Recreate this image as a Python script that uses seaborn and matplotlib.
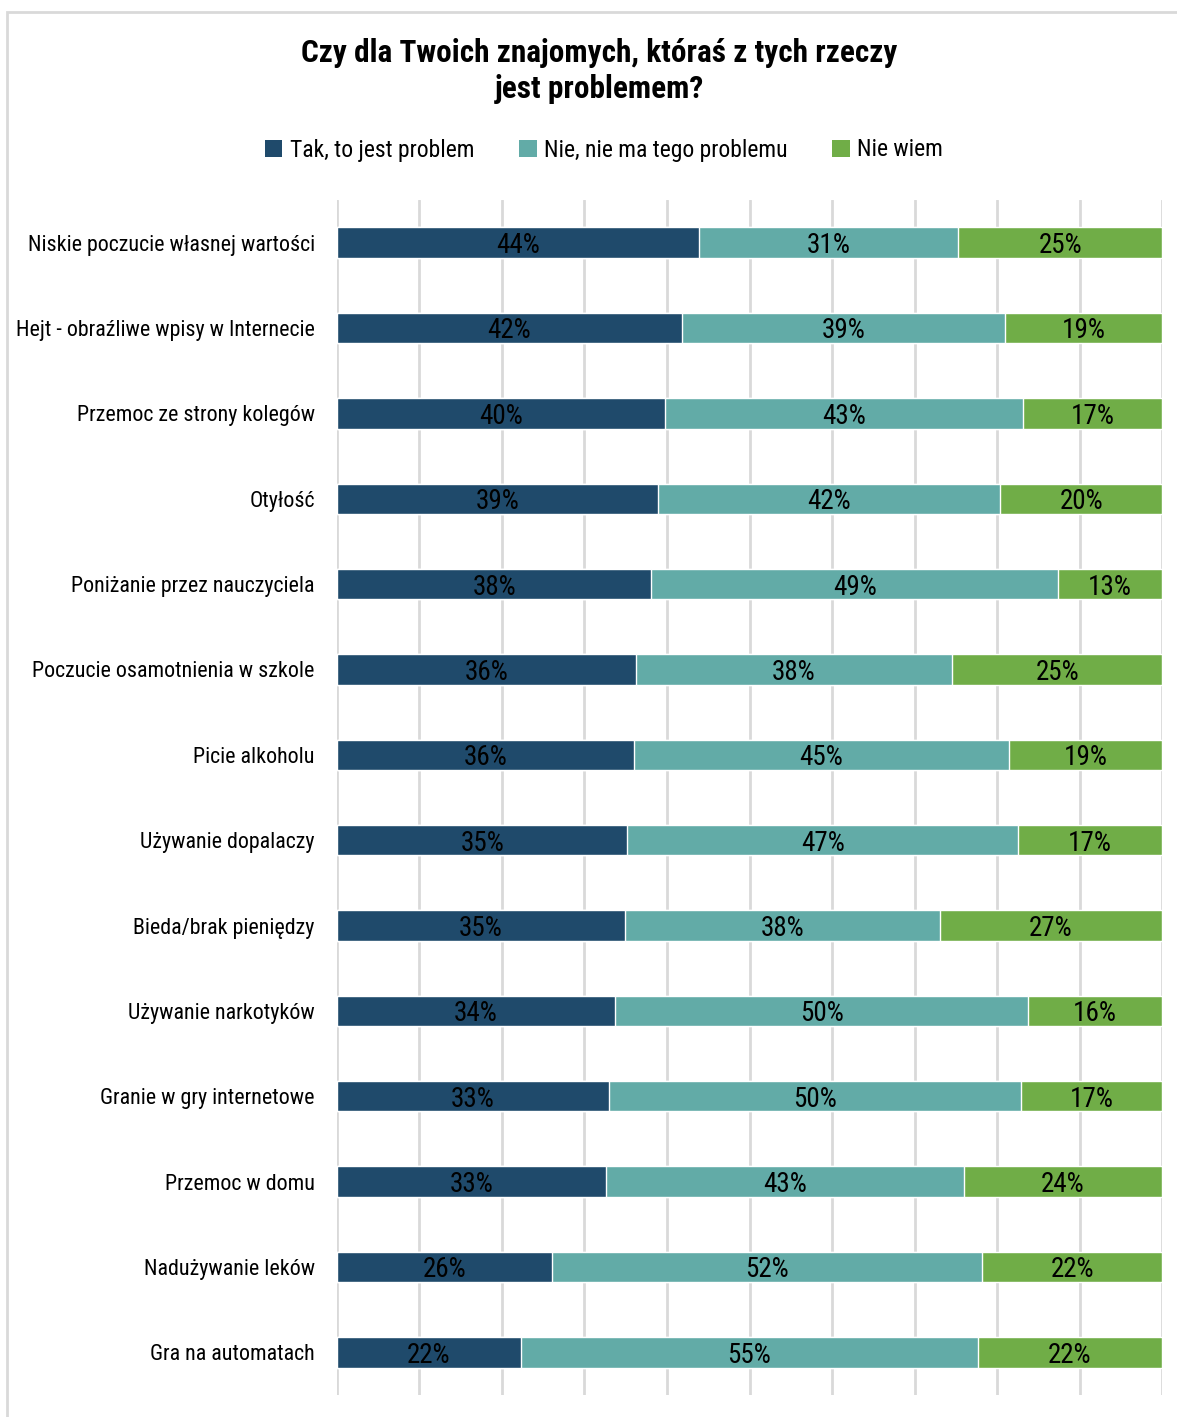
import numpy as np
import pandas as pd
import seaborn as sns
import matplotlib.pyplot as plt
from matplotlib.patches import Rectangle, Patch

# dane (procenty)
categories = [
    "Niskie poczucie własnej wartości",
    "Hejt - obraźliwe wpisy w Internecie",
    "Przemoc ze strony kolegów",
    "Otyłość",
    "Poniżanie przez nauczyciela",
    "Poczucie osamotnienia w szkole",
    "Picie alkoholu",
    "Używanie dopalaczy",
    "Bieda/brak pieniędzy",
    "Używanie narkotyków",
    "Granie w gry internetowe",
    "Przemoc w domu",
    "Nadużywanie leków",
    "Gra na automatach",
]
tak = [43.9, 41.8, 39.8, 38.9, 38.1, 36.2, 36.0, 35.2, 34.9, 33.7, 33.0, 32.6, 26.1, 22.3]
nie = [31.4, 39.2, 43.4, 41.5, 49.3, 38.4, 45.4, 47.4, 38.2, 50.1, 49.9, 43.4, 52.1, 55.4]
nie_wiem = [24.7, 19.0, 16.8, 19.6, 12.6, 25.4, 18.6, 17.4, 26.9, 16.2, 17.1, 24.0, 21.8, 22.3]
series_names = ["Tak, to jest problem", "Nie, nie ma tego problemu", "Nie wiem"]
colors = ["#1F4A6B", "#62ABA7", "#70AD47"]

sns.set_theme(style="white")
plt.rcParams["font.family"] = ["Roboto Condensed", "DejaVu Sans"]
plt.rcParams["text.color"] = "black"

df = pd.DataFrame({"kategoria": categories, "tak": tak, "nie": nie, "nie_wiem": nie_wiem})
df["c1"] = df["tak"]
df["c2"] = df["tak"] + df["nie"]
df["c3"] = df["c2"] + df["nie_wiem"]

fig = plt.figure(figsize=(11.77, 14.17), dpi=100)
ax = fig.add_axes([0.2863, 0.0155, 0.701, 0.8434])

# stacked bars: draw cumulative totals back to front
for col, color in zip(["c3", "c2", "c1"], colors[::-1]):
    sns.barplot(data=df, x=col, y="kategoria", color=color, orient="h",
                width=0.355, saturation=1, ax=ax, zorder=2)

ax.set_xlim(0, 100)
ax.set_ylim(len(categories) - 0.5, -0.5)
ax.set_xticks(np.arange(0, 101, 10))
ax.set_xticklabels([])
ax.grid(axis="x", color="#D9D9D9", linewidth=2, zorder=0)
ax.grid(axis="y", visible=False)
ax.set_axisbelow(True)
for s in ax.spines.values():
    s.set_visible(False)
ax.set_xlabel("")
ax.set_ylabel("")
ax.tick_params(axis="y", length=0, pad=16, labelsize=15.8, labelcolor="black")
ax.tick_params(axis="x", length=0)

# etykiety procentowe w środku segmentów
for i, row in df.iterrows():
    starts = [0, row["c1"], row["c2"]]
    widths = [row["tak"], row["nie"], row["nie_wiem"]]
    for s, w in zip(starts, widths):
        ax.text(s + w / 2, i + 0.035, f"{w:.0f}%", ha="center", va="center",
                fontsize=19.5, color="black", zorder=3)

fig.text(0.509, 1 - 71 / 1417, "Czy dla Twoich znajomych, któraś z tych rzeczy\njest problemem?",
         ha="center", va="center", fontsize=22.5, fontweight="bold", linespacing=1.25, color="black")

handles = [Patch(facecolor=c, edgecolor="none") for c in colors]
leg = fig.legend(handles, series_names, loc="center", bbox_to_anchor=(0.513, 1 - 150 / 1417),
                 ncol=3, frameon=False, fontsize=17, handlelength=0.75, handleheight=0.75,
                 handletextpad=0.3, columnspacing=1.9)
for t in leg.get_texts():
    t.set_color("black")

fig.add_artist(Rectangle((7 / 1177, -0.1), 1.2, (1 - 12 / 1417) + 0.1, transform=fig.transFigure,
                         fill=False, edgecolor="#D9D9D9", linewidth=2))

fig.savefig("out.png", dpi=100)
